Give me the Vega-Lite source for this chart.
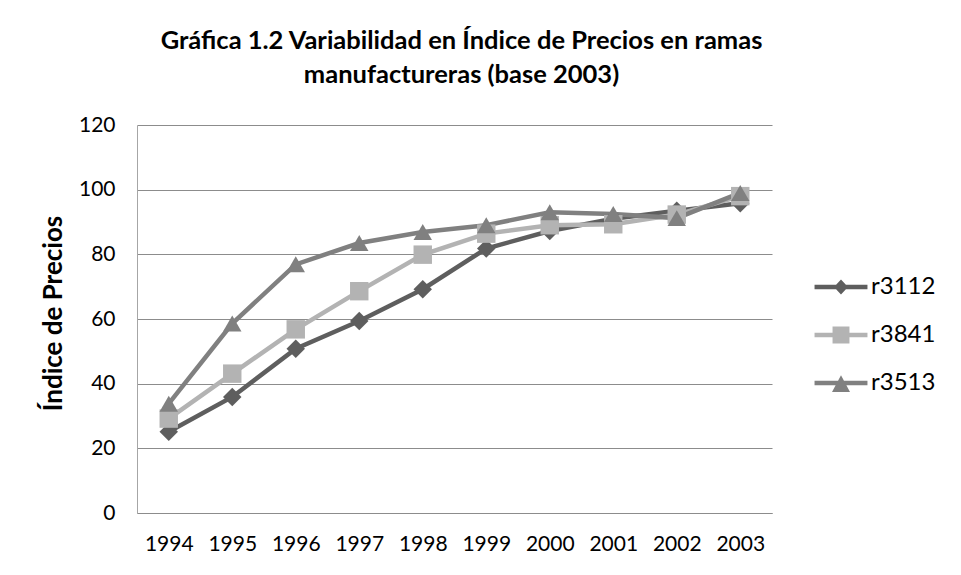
{
  "$schema": "https://vega.github.io/schema/vega-lite/v6.json",
  "width": 635,
  "height": 388,
  "autosize": {"type": "none"},
  "padding": {"left": 137, "top": 125, "right": 189, "bottom": 62},
  "background": "white",
  "title": {
    "text": ["Gráfica 1.2 Variabilidad en Índice de Precios en ramas", "manufactureras (base 2003)"],
    "font": "Lato",
    "fontSize": 25.5,
    "fontWeight": "bold",
    "color": "black",
    "lineHeight": 34,
    "anchor": "middle",
    "dx": 7,
    "offset": 26
  },
  "data": {
    "values": [
      {"year": "1994", "serie": "r3112", "value": 25.1},
      {"year": "1995", "serie": "r3112", "value": 35.9},
      {"year": "1996", "serie": "r3112", "value": 50.8},
      {"year": "1997", "serie": "r3112", "value": 59.4},
      {"year": "1998", "serie": "r3112", "value": 69.2},
      {"year": "1999", "serie": "r3112", "value": 81.8},
      {"year": "2000", "serie": "r3112", "value": 87.2},
      {"year": "2001", "serie": "r3112", "value": 91.0},
      {"year": "2002", "serie": "r3112", "value": 93.5},
      {"year": "2003", "serie": "r3112", "value": 95.8},
      {"year": "1994", "serie": "r3841", "value": 29.2},
      {"year": "1995", "serie": "r3841", "value": 43.1},
      {"year": "1996", "serie": "r3841", "value": 56.8},
      {"year": "1997", "serie": "r3841", "value": 68.6},
      {"year": "1998", "serie": "r3841", "value": 79.9},
      {"year": "1999", "serie": "r3841", "value": 86.4},
      {"year": "2000", "serie": "r3841", "value": 89.0},
      {"year": "2001", "serie": "r3841", "value": 89.3},
      {"year": "2002", "serie": "r3841", "value": 92.3},
      {"year": "2003", "serie": "r3841", "value": 98.0},
      {"year": "1994", "serie": "r3513", "value": 33.8},
      {"year": "1995", "serie": "r3513", "value": 58.6},
      {"year": "1996", "serie": "r3513", "value": 76.9},
      {"year": "1997", "serie": "r3513", "value": 83.5},
      {"year": "1998", "serie": "r3513", "value": 86.9},
      {"year": "1999", "serie": "r3513", "value": 89.0},
      {"year": "2000", "serie": "r3513", "value": 93.0},
      {"year": "2001", "serie": "r3513", "value": 92.5},
      {"year": "2002", "serie": "r3513", "value": 91.2},
      {"year": "2003", "serie": "r3513", "value": 99.0}
    ]
  },
  "encoding": {
    "x": {
      "field": "year",
      "type": "ordinal",
      "scale": {"type": "point", "padding": 0.5},
      "axis": {
        "title": null,
        "labelAngle": 0,
        "ticks": false,
        "domainColor": "#8c8c8c",
        "labelFont": "Lato",
        "labelFontSize": 21,
        "labelColor": "black",
        "labelPadding": 20,
        "grid": false
      }
    },
    "y": {
      "field": "value",
      "type": "quantitative",
      "scale": {"domain": [0, 120], "nice": false},
      "axis": {
        "title": "Índice de Precios",
        "titleFont": "Lato",
        "titleFontSize": 26,
        "titleFontWeight": "bold",
        "titleColor": "black",
        "titlePadding": 12,
        "titleY": 188,
        "values": [0, 20, 40, 60, 80, 100, 120],
        "ticks": false,
        "domainColor": "#a6a6a6",
        "gridColor": "#8c8c8c",
        "gridWidth": 1.2,
        "labelFont": "Lato",
        "labelFontSize": 21,
        "labelColor": "black",
        "labelPadding": 22
      }
    }
  },
  "layer": [
    {
      "mark": {"type": "line", "strokeWidth": 4.5},
      "encoding": {
        "color": {
          "field": "serie",
          "type": "nominal",
          "scale": {"domain": ["r3112", "r3841", "r3513"], "range": ["#5e5e5e", "#b3b3b3", "#808080"]},
          "legend": null
        },
        "detail": {"field": "serie"}
      }
    },
    {
      "mark": {"type": "point", "filled": true, "opacity": 1, "size": 340},
      "encoding": {
        "color": {
          "field": "serie",
          "type": "nominal",
          "scale": {"domain": ["r3112", "r3841", "r3513"], "range": ["#5e5e5e", "#b3b3b3", "#808080"]},
          "legend": null
        },
        "shape": {
          "field": "serie",
          "type": "nominal",
          "scale": {"domain": ["r3112", "r3841", "r3513"], "range": ["diamond", "square", "triangle-up"]},
          "legend": null
        }
      }
    },
    {
      "mark": {"type": "point", "filled": true, "opacity": 0, "size": 324},
      "encoding": {
        "color": {
          "field": "serie",
          "type": "nominal",
          "scale": {"domain": ["r3112", "r3841", "r3513"], "range": ["#5e5e5e", "#b3b3b3", "#808080"]},
          "legend": {
            "title": null,
            "orient": "none",
            "legendX": 692,
            "legendY": 150,
            "padding": 0,
            "symbolSize": 324,
            "symbolStrokeWidth": 0,
            "symbolOpacity": 1,
            "labelFont": "Lato",
            "labelFontSize": 24,
            "labelColor": "black",
            "labelOffset": 18,
            "rowPadding": 24
          }
        },
        "shape": {
          "field": "serie",
          "type": "nominal",
          "scale": {
            "domain": ["r3112", "r3841", "r3513"],
            "range": [
              "M-2.94,-0.25H2.94V0.25H-2.94Z M0,-0.83L0.78,0L0,0.83L-0.78,0Z",
              "M-2.94,-0.25H2.94V0.25H-2.94Z M-0.94,-0.94H0.94V0.94H-0.94Z",
              "M-2.94,-0.25H2.94V0.25H-2.94Z M0,-0.85L1,1L-1,1Z"
            ]
          },
          "legend": {
            "title": null,
            "orient": "none",
            "legendX": 692,
            "legendY": 150,
            "padding": 0,
            "symbolSize": 324,
            "symbolStrokeWidth": 0,
            "symbolOpacity": 1,
            "labelFont": "Lato",
            "labelFontSize": 24,
            "labelColor": "black",
            "labelOffset": 18,
            "rowPadding": 24
          }
        }
      }
    }
  ],
  "resolve": {"scale": {"shape": "independent", "color": "independent"}},
  "config": {"view": {"stroke": null}}
}
